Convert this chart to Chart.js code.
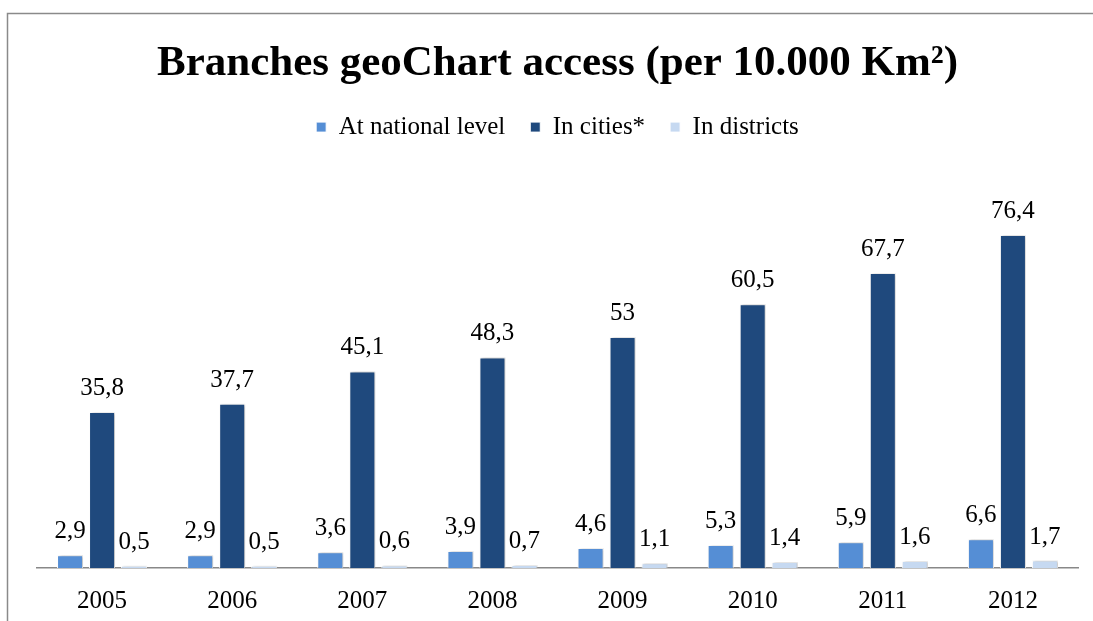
<!DOCTYPE html>
<html>
<head>
<meta charset="utf-8">
<script src="https://cdn.jsdelivr.net/npm/chart.js@4"></script>
<style>
  html, body { margin: 0; padding: 0; background: #fff; }
  #wrap { width: 1093px; height: 621px; position: relative; }
</style>
</head>
<body>
<div id="wrap"><canvas id="branchChart" width="1093" height="621"></canvas></div>
<script>
const years = ['2005', '2006', '2007', '2008', '2009', '2010', '2011', '2012'];
const nationalLevel = [2.9, 2.9, 3.6, 3.9, 4.6, 5.3, 5.9, 6.6];
const inCities = [35.8, 37.7, 45.1, 48.3, 53, 60.5, 67.7, 76.4];
const inDistricts = [0.5, 0.5, 0.6, 0.7, 1.1, 1.4, 1.6, 1.7];

const serif = "'Liberation Serif', 'Times New Roman', serif";

// Frame lines round the chart (left and top edges)
const framePlugin = {
  id: 'frame',
  beforeDraw(chart) {
    const ctx = chart.ctx;
    ctx.save();
    ctx.strokeStyle = '#8a8a8a';
    ctx.lineWidth = 1.5;
    ctx.beginPath();
    ctx.moveTo(7.5, chart.height);
    ctx.lineTo(7.5, 13.5);
    ctx.lineTo(chart.width, 13.5);
    ctx.stroke();
    ctx.restore();
  }
};

// Soft shadow behind the bars, then value labels above them
const barLabels = {
  id: 'barLabels',
  beforeDatasetsDraw(chart) {
    const ctx = chart.ctx;
    ctx.save();
    ctx.shadowColor = 'rgba(0,0,0,0.28)';
    ctx.shadowBlur = 3;
    ctx.shadowOffsetX = 1.5;
    ctx.shadowOffsetY = 0;
  },
  afterDatasetsDraw(chart) {
    const ctx = chart.ctx;
    ctx.restore();
    ctx.save();
    ctx.font = '25px ' + serif;
    ctx.fillStyle = '#000';
    ctx.textAlign = 'center';
    ctx.textBaseline = 'alphabetic';
    chart.data.datasets.forEach((ds, i) => {
      chart.getDatasetMeta(i).data.forEach((bar, j) => {
        const txt = String(ds.data[j]).replace('.', ',');
        ctx.fillText(txt, bar.x, bar.y - 17);
      });
    });
    ctx.restore();
  }
};

new Chart(document.getElementById('branchChart').getContext('2d'), {
  type: 'bar',
  data: {
    labels: years,
    datasets: [
      { label: 'At national level', data: nationalLevel, backgroundColor: '#558ed5' },
      { label: 'In cities*', data: inCities, backgroundColor: '#1f497d' },
      { label: 'In districts', data: inDistricts, backgroundColor: '#c6d9f1' }
    ]
  },
  options: {
    responsive: false,
    animation: false,
    layout: { padding: { left: 37, right: 15, top: 0, bottom: 0 } },
    datasets: {
      bar: {
        categoryPercentage: 0.738,
        barPercentage: 0.8125,
        borderColor: '#ffffff',
        borderWidth: 1
      }
    },
    plugins: {
      title: {
        display: true,
        text: 'Branches geoChart access (per 10.000 Km²)',
        color: '#000',
        font: { family: serif, size: 43, weight: 'bold' },
        padding: { top: 38, bottom: 0 }
      },
      legend: {
        position: 'top',
        labels: {
          color: '#000',
          font: { family: serif, size: 25 },
          boxWidth: 10,
          boxHeight: 10,
          padding: 25
        }
      },
      tooltip: { enabled: false }
    },
    scales: {
      x: {
        grid: { display: false, drawTicks: false },
        border: { display: true, color: '#888888', width: 1.5 },
        ticks: { color: '#000', font: { family: serif, size: 25 }, padding: 18 },
        afterFit(scale) { scale.height = 53; }
      },
      y: {
        display: false,
        min: 0,
        max: 96
      }
    }
  },
  plugins: [framePlugin, barLabels]
});
</script>
</body>
</html>
